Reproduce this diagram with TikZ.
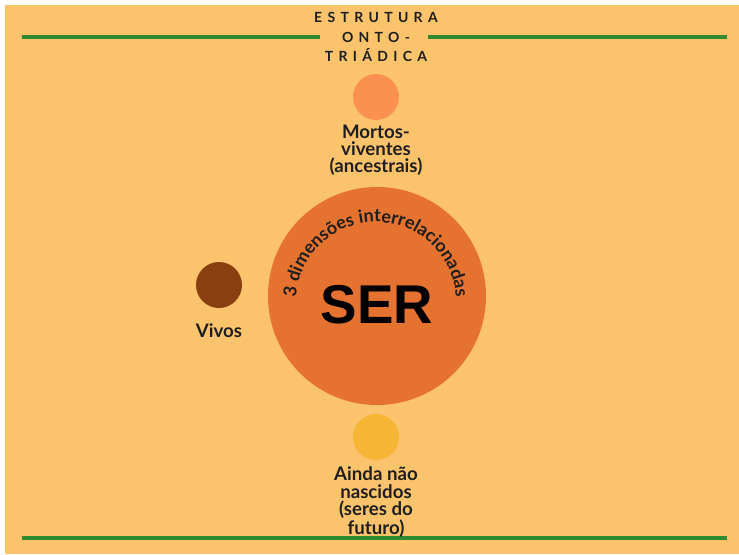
\documentclass[tikz,border=0pt]{standalone}
\usepackage{fontspec}
\setmainfont{Lato}
\newfontfamily\serfont{Liberation Sans}
\newfontfamily\titlefont[LetterSpace=38]{Lato}
\usepackage{tikz}
\usetikzlibrary{decorations.text}
\usepackage{color}
\definecolor{bgorange}{HTML}{FCC36D}
\definecolor{sercol}{HTML}{E5722F}
\definecolor{ancest}{HTML}{FB9150}
\definecolor{vivocol}{HTML}{8A3F10}
\definecolor{futuro}{HTML}{F6B535}
\definecolor{linegreen}{HTML}{2F8A2F}
\definecolor{ink}{HTML}{1E1E1E}
\newcommand{\labelfont}{\bfseries\fontsize{14}{12.9}\selectfont}

\begin{document}
\begin{tikzpicture}[x=0.75pt,y=0.75pt]
                \tikzstyle{every node}+=[inner sep=0pt, text=ink]
                \useasboundingbox (0,0) rectangle (739,-554);
                \fill [white] (0,0) rectangle (739,-554);
                \fill [bgorange] (5,-5) rectangle (739,-554);
                % titulo
                \draw [linegreen, line width=2.4pt] (22,-37) -- (320,-37);
                \draw [linegreen, line width=2.4pt] (428,-37) -- (727,-37);
                \draw (376,-37) node (titulo) [align=center, font=\titlefont\bfseries\fontsize{10.5}{14.6}\selectfont] {ESTRUTURA\\ONTO-\\TRIÁDICA};
                \draw [linegreen, line width=2.4pt] (22,-538) -- (727,-538);
                % SER
                \fill [sercol] (377,-296) circle (109);
                \draw (377,-305) node (ser) [text=black, font=\serfont\bfseries\fontsize{41}{41}\selectfont] {SER};
                \path [decorate, decoration={text along path, text align=center,
                       text={|\bfseries\fontsize{13.5}{13.5}\selectfont\color{ink}|3 dimensões interrelacionadas}}]
                      (376,-302) ++(178:80) arc (178:2:80);
                % mortos-viventes
                \fill [ancest] (376,-97) circle (23);
                \draw (376,-150) node (mortos) [align=center, font=\labelfont] {Mortos-\\viventes\\(ancestrais)};
                % vivos
                \fill [vivocol] (219,-285) circle (23);
                \draw (219,-331) node (vivos) [font=\labelfont] {Vivos};
                % ainda nao nascidos
                \fill [futuro] (376,-437) circle (23);
                \draw (376,-502) node (ainda) [align=center, font=\labelfont] {Ainda não\\nascidos\\(seres do\\futuro)};
\end{tikzpicture}
\end{document}
